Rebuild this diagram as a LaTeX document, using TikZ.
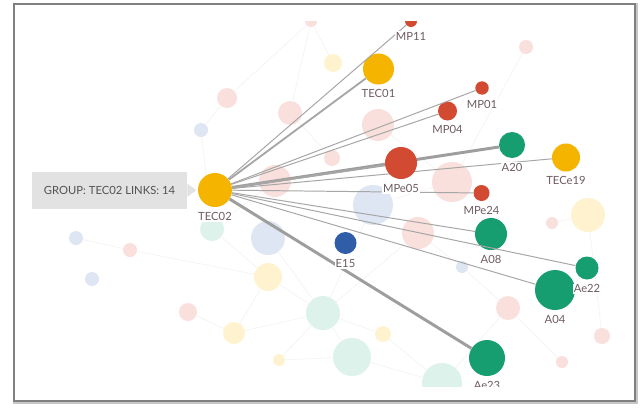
\documentclass[tikz,border=0pt]{standalone}
\usepackage{fontspec}
\usepackage{xcolor}
\usetikzlibrary{positioning}
\newfontfamily\graphfont{Lato}

\definecolor{grpYellow}{HTML}{F4B400}
\definecolor{grpRed}{HTML}{D14A31}
\definecolor{grpGreen}{HTML}{169E70}
\definecolor{grpBlue}{HTML}{2F5DA8}
\definecolor{paleYellow}{HTML}{FFF3CF}
\definecolor{paleRed}{HTML}{F9E0DC}
\definecolor{paleGreen}{HTML}{DDF2EA}
\definecolor{paleBlue}{HTML}{DFE6F3}
\definecolor{labelText}{HTML}{6E5C60}
\definecolor{linkGrey}{HTML}{A6A6A6}
\definecolor{tipFill}{HTML}{E2E2E2}

\begin{document}
\begin{tikzpicture}[
    x=0.025cm, y=-0.025cm,
    font=\graphfont\fontsize{8pt}{9pt}\selectfont,
    bubble/.style={circle, inner sep=0pt, minimum size=#1*0.05cm},
    faint/.style={bubble=#1},
    ghost/.style={draw=black!5, line width=0.4pt},
    link/.style={draw=linkGrey, line width=0.7pt},
    midlink/.style={draw=linkGrey, line width=1.3pt},
    heavylink/.style={draw=linkGrey!95!black, line width=2.1pt},
    lbl/.style={text=labelText, fill=white, inner sep=0.8pt},
    tooltip/.style={
        rectangle,
        fill=tipFill,
        text=black!68,
        minimum width=3.875cm,
        minimum height=0.925cm,
        inner sep=0pt
    }
]
\useasboundingbox (0,0) rectangle (642,407);

% =========================================================
% Panel
% =========================================================
\draw[black!22, line width=2.6pt] (15,5) rectangle (636,402);
\filldraw[fill=white, draw=black!50, line width=1pt] (14,4) rectangle (635,401);

\begin{scope}
\clip (16,21.5) rectangle (633,386);

% =========================================================
% Background groups (faded)
% =========================================================
\foreach \n/\x/\y/\r/\c in {
    p1/227/98/10/paleRed, p2/290/113/12/paleRed, b1/201/130/7/paleBlue,
    p3/275/181/16/paleRed, p4/311/21/6/paleRed, p5/378/125/16/paleRed,
    p6/332/158/8/paleRed, b2/373/205/20/paleBlue, p7/418/233/16/paleRed,
    g1/212/229/12/paleGreen, b3/268/238/17/paleBlue, y1/333/63/9/paleYellow,
    p8/526/47/7/paleRed, p9/452/182/20/paleRed, b4/76/238/7/paleBlue,
    p10/130/250/7/paleRed, b5/92/279/7/paleBlue, y2/268/277/14/paleYellow,
    p11/188/312/9/paleRed, y3/234/333/11/paleYellow, y4/279/360/6/paleYellow,
    g2/323/313/17/paleGreen, g3/352/357/19/paleGreen, y5/383/334/8/paleYellow,
    g4/442/383/20/paleGreen, y6/588/215/17/paleYellow, p12/552/223/6/paleRed,
    b6/462/267/6/paleBlue, p13/508/308/12/paleRed, p14/602/336/8/paleRed,
    p15/562/362/6/paleRed}
    \node[faint=\r, fill=\c] (\n) at (\x,\y) {};

\foreach \a/\b in {b4/p10, p10/y2, g2/y2, g2/y3, g2/y4, g2/g3, g2/y5,
    g2/b2, g2/p7, g3/g4, g3/y4, y3/p11, y3/y2, p1/b1, p1/p4, p2/p4,
    b1/g1, p3/g1, b2/p9, p9/p8, y6/p12, y6/p14, p13/p15, p13/b6,
    g4/p13, y1/p4, p5/p9, p6/p2, g1/y2, b3/g2, p7/b6, y5/g4}
    \draw[ghost] (\a) -- (\b);

% =========================================================
% Highlighted groups
% =========================================================
\node[bubble=17, fill=grpYellow] (tec02) at (215,190) {};
\node[bubble=6, fill=grpRed] (mp11) at (411,21) {};
\node[bubble=15.5, fill=grpYellow] (tec01) at (378.5,69) {};
\node[bubble=6.7, fill=grpRed] (mp01) at (482,88) {};
\node[bubble=9.5, fill=grpRed] (mp04) at (447.5,111) {};
\node[bubble=13, fill=grpGreen] (a20) at (512,145) {};
\node[bubble=14, fill=grpYellow] (tece19) at (566,157.5) {};
\node[bubble=8, fill=grpRed] (mpe24) at (481.5,193) {};
\node[bubble=16, fill=grpGreen] (a08) at (491,234) {};
\node[bubble=11, fill=grpBlue] (e15) at (345.5,243) {};
\node[bubble=20, fill=grpGreen] (a04) at (555,290) {};
\node[bubble=11.5, fill=grpGreen] (ae22) at (587,268) {};
\node[bubble=18, fill=grpGreen] (ae23) at (487,358) {};

% Links of TEC02
\draw[link] (tec02) -- (mp11);
\draw[midlink] (tec02) -- (tec01);
\draw[link] (tec02) -- (mp01);
\draw[link] (tec02) -- (mp04);
\draw[heavylink] (tec02) -- (a20);
\draw[link] (tec02) -- (tece19);
\draw[link] (tec02) -- (mpe24);
\draw[link] (tec02) -- (a08);
\draw[link] (tec02) -- (ae22);
\draw[link] (tec02) -- (a04);
\draw[heavylink] (tec02) -- (ae23);

\node[bubble=16, fill=grpRed] (mpe05) at (401,163) {};
\draw[midlink] (tec02) -- (mpe05);

% Labels
\node[lbl, below=2.5pt of tec02] (tec02-l) {TEC02};
\node[lbl, below=2.5pt of mp11] (mp11-l) {MP11};
\node[lbl, below=2.5pt of tec01] (tec01-l) {TEC01};
\node[lbl, below=2.5pt of mp01] (mp01-l) {MP01};
\node[lbl, below=2.5pt of mp04] (mp04-l) {MP04};
\node[lbl, below=2.5pt of a20] (a20-l) {A20};
\node[lbl, below=2.5pt of tece19] (tece19-l) {TECe19};
\node[lbl, below=2.5pt of mpe05] (mpe05-l) {MPe05};
\node[lbl, below=2.5pt of mpe24] (mpe24-l) {MPe24};
\node[lbl, below=2.5pt of a08] (a08-l) {A08};
\node[lbl, below=2.5pt of e15] (e15-l) {E15};
\node[lbl, below=2.5pt of a04] (a04-l) {A04};
\node[lbl, below=2.5pt of ae22] (ae22-l) {Ae22};
\node[lbl, below=2.5pt of ae23] (ae23-l) {Ae23};
\end{scope}

% =========================================================
% Tooltip
% =========================================================
\node[tooltip] (tip) at (109.5,190.5) {GROUP: TEC02 LINKS: 14};
\fill[tipFill] (tip.north east) ++(0,12) -- ++(9,6.5) -- ++(-9,6.5) -- cycle;

\end{tikzpicture}
\end{document}
